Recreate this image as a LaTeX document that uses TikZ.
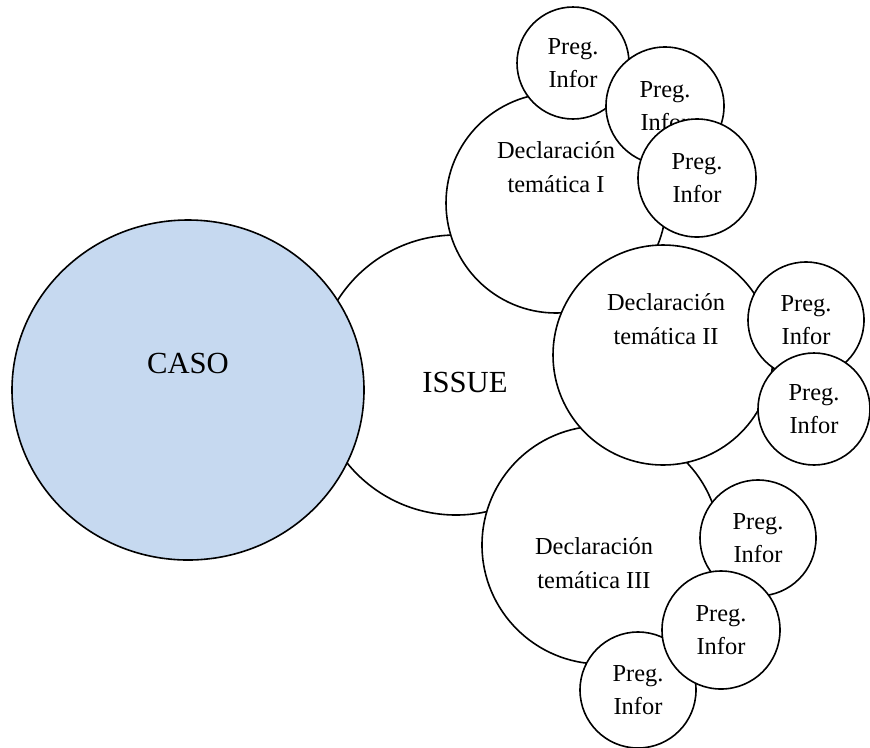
\documentclass[tikz,border=0pt]{standalone}
\usepackage{fontspec}
\setmainfont{Liberation Serif}
\usetikzlibrary{shapes.geometric}
\definecolor{casoblue}{RGB}{198,217,240}
\newcommand{\pregfont}{\fontsize{18.3}{25}\selectfont}
\newcommand{\casofont}{\fontsize{23}{26}\selectfont}
\begin{document}
\begin{tikzpicture}[x=0.75pt,y=-0.75pt,
  bub/.style={circle, draw=black, line width=1.2pt, fill=white, inner sep=0pt},
  preg/.style={bub, align=center, font=\pregfont},
  lbl/.style={align=center, inner sep=0pt, font=\pregfont},
  big/.style={inner sep=0pt, font=\casofont}]
\useasboundingbox (0,0) rectangle (870,747);
% ISSUE and CASO
\node[bub, minimum size=280*0.75pt] (issue) at (456,375) {};
\node[ellipse, draw=black, line width=1.2pt, fill=casoblue, inner sep=0pt,
      minimum width=352*0.75pt, minimum height=340*0.75pt] (caso) at (188,390) {};
\node[big] (casot) at (188,363) {CASO};
\node[big] (issuet) at (465,382) {ISSUE};
% Declaracion tematica I
\node[bub, minimum size=220*0.75pt] (d1) at (556,203) {};
\node[lbl] (d1t) at (556,167) {Declaración\\temática I};
\node[preg, minimum size=112*0.75pt] (p1) at (573,63) {Preg.\\Infor};
\node[preg, minimum size=118*0.75pt] (p2) at (665,106) {Preg.\\Infor};
\node[preg, minimum size=118*0.75pt] (p3) at (697,178) {Preg.\\Infor};
% Declaracion tematica III
\node[bub, minimum size=238*0.75pt] (d3) at (601,545) {};
\node[lbl] (d3t) at (594,563) {Declaración\\temática III};
\node[preg, minimum size=116*0.75pt] (p8) at (638,690) {Preg.\\Infor};
\node[preg, minimum size=116*0.75pt] (p6) at (758,538) {Preg.\\Infor};
\node[preg, minimum size=118*0.75pt] (p7) at (721,630) {Preg.\\Infor};
% Declaracion tematica II
\node[bub, minimum size=220*0.75pt] (d2) at (663,355) {};
\node[lbl] (d2t) at (666,319) {Declaración\\temática II};
\node[preg, minimum size=116*0.75pt] (p4) at (806,320) {Preg.\\Infor};
\node[preg, minimum size=112*0.75pt] (p5) at (814,409) {Preg.\\Infor};
\end{tikzpicture}
\end{document}
